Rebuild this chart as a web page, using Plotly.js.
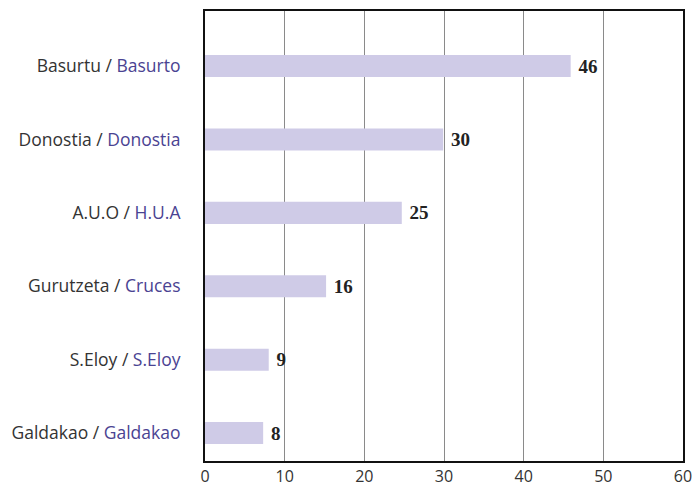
<!DOCTYPE html>
<html>
<head>
<meta charset="utf-8">
<script src="https://cdn.plot.ly/plotly-3.0.1.min.js"></script>
<style>
  body { margin: 0; background: #fff; }
  #chart { width: 693px; height: 486px; }
</style>
</head>
<body>
<div id="chart"></div>
<script>
// listed bottom to top
const basque = ['Galdakao', 'S.Eloy', 'Gurutzeta', 'A.U.O', 'Donostia', 'Basurtu'];
const spanish = ['Galdakao', 'S.Eloy', 'Cruces', 'H.U.A', 'Donostia', 'Basurto'];
const barValues = [7.3, 8.0, 15.2, 24.7, 29.9, 45.9];
const valueLabels = ['8', '9', '16', '25', '30', '46'];
const xTicks = [0, 10, 20, 30, 40, 50, 60];

const nb = '\u00a0';
const tickText = basque.map((b, i) =>
    b + nb + '/' + '<span style="color:#4a4392">' + nb + spanish[i] + '</span>');

const trace = {
    type: 'bar',
    orientation: 'h',
    x: barValues,
    y: basque,
    width: 0.3,
    marker: { color: '#cfcbe7' },
    text: valueLabels.map(t => nb + '<b>' + t + '</b>'),
    textposition: 'outside',
    cliponaxis: false,
    textfont: { family: 'Liberation Serif', size: 19, color: '#222' },
    hoverinfo: 'none'
};

const layout = {
    width: 693,
    height: 486,
    margin: { l: 205, r: 10, t: 11, b: 25 },
    paper_bgcolor: '#fff',
    plot_bgcolor: '#fff',
    showlegend: false,
    font: { family: 'Open Sans, sans-serif', size: 16, color: '#333' },
    xaxis: {
        range: [0, 60],
        tickvals: xTicks,
        showgrid: true,
        gridcolor: '#8a8a8a',
        gridwidth: 1,
        zeroline: false,
        showline: true,
        linecolor: '#111',
        linewidth: 2,
        mirror: true,
        ticks: '',
        tickfont: { family: 'Open Sans, sans-serif', size: 16, color: '#333' }
    },
    yaxis: {
        type: 'category',
        range: [-0.38, 5.75],
        tickvals: basque,
        ticktext: tickText,
        showgrid: false,
        zeroline: false,
        showline: true,
        linecolor: '#111',
        linewidth: 2,
        mirror: true,
        ticks: '',
        ticklabelstandoff: 19,
        tickfont: { family: 'Open Sans, sans-serif', size: 17.5, color: '#333' }
    }
};

Plotly.newPlot('chart', [trace], layout, { displayModeBar: false, staticPlot: true });
</script>
</body>
</html>
